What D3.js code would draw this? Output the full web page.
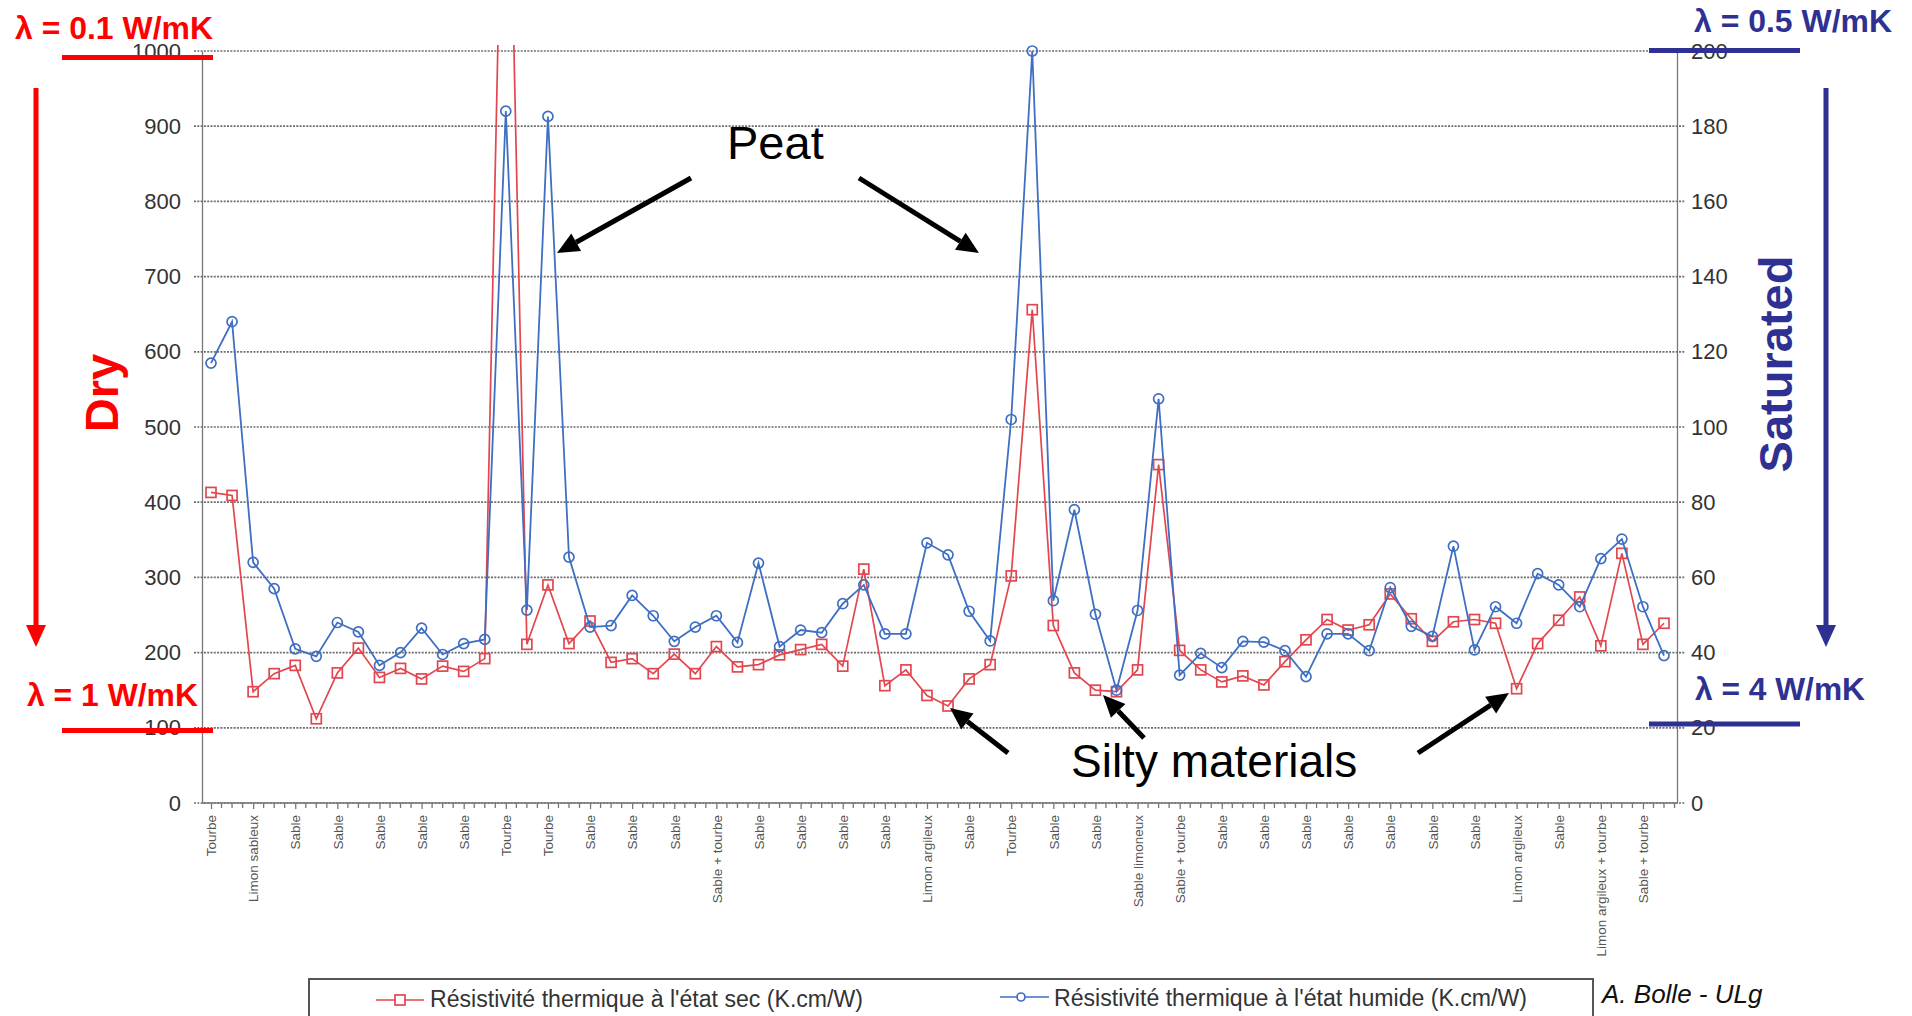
<!DOCTYPE html>
<meta charset='utf-8'>
<style>
body { margin: 0; background: #fff; }
svg { font-family: 'Liberation Sans', Arial, sans-serif; }
.grid line { stroke: #6e6e6e; stroke-width: 1.7; stroke-dasharray: 2,1.3; }
.axis path, .axis line { stroke: #777; stroke-width: 1.3; }
.axis text { fill: #333; font-size: 22px; }
.xaxis text { fill: #555; font-size: 13.5px; }
.ann { font-weight: bold; }
</style>
<svg width='1912' height='1016'></svg>
<script src='https://d3js.org/d3.v7.min.js'></script>
<script>

// soil type of every second sample
var labels = ['Tourbe', 'Limon sableux', 'Sable', 'Sable', 'Sable', 'Sable', 'Sable', 'Tourbe',
  'Tourbe', 'Sable', 'Sable', 'Sable', 'Sable + tourbe', 'Sable', 'Sable', 'Sable', 'Sable',
  'Limon argileux', 'Sable', 'Tourbe', 'Sable', 'Sable', 'Sable limoneux', 'Sable + tourbe',
  'Sable', 'Sable', 'Sable', 'Sable', 'Sable', 'Sable', 'Sable', 'Limon argileux', 'Sable',
  'Limon argileux + tourbe', 'Sable + tourbe'];

// dry resistivity, left axis (K.cm/W)
var dry = [413, 409, 148, 172, 183, 112, 173, 206, 167, 179,
  165, 182, 175, 192, 1500, 211, 290, 212, 242, 187,
  192, 172, 198, 172, 208, 181, 184, 197, 204, 211,
  182, 311, 156, 177, 143, 129, 165, 184, 302, 656,
  236, 173, 150, 148, 177, 450, 203, 177, 161, 169,
  157, 188, 217, 244, 230, 237, 278, 245, 215, 241,
  244, 239, 152, 212, 243, 274, 209, 332, 211, 239];

// saturated resistivity, right axis (K.cm/W)
var wet = [117, 128, 64, 57, 41, 39, 48, 45.5, 36.6, 40,
  46.5, 39.5, 42.4, 43.5, 184, 51.3, 182.6, 65.4, 46.8, 47.2,
  55.2, 49.8, 43, 46.8, 49.8, 42.7, 63.8, 41.6, 46, 45.3,
  53, 58, 45, 45, 69.2, 66, 51, 43.1, 102, 200,
  53.8, 78, 50.2, 30, 51.2, 107.5, 34, 39.8, 36, 43,
  42.8, 40.5, 33.6, 45, 45, 40.5, 57.3, 47, 44.3, 68.3,
  40.7, 52.2, 47.8, 61, 58, 52.2, 65, 70.2, 52.2, 39.2];

var leftTicks = [0, 100, 200, 300, 400, 500, 600, 700, 800, 900, 1000];
var rightTicks = [0, 20, 40, 60, 80, 100, 120, 140, 160, 180, 200];

var svg = d3.select('svg'),
    pLeft = 202, pRight = 1677, pTop = 51, pBottom = 803,
    red = '#e2474f', blue = '#3f6fc2',
    annRed = '#ff0000', annBlue = '#2e3192';

var x = d3.scalePoint().domain(d3.range(dry.length)).range([211, 1664]);
var yL = d3.scaleLinear().domain([0, 1000]).range([pBottom, pTop]);
var yR = d3.scaleLinear().domain([0, 200]).range([pBottom, pTop]);

// gridlines
svg.append('g').attr('class', 'grid')
  .selectAll('line').data(leftTicks).enter().append('line')
  .attr('x1', pLeft - 8).attr('x2', pRight + 8)
  .attr('y1', function(d) { return yL(d); })
  .attr('y2', function(d) { return yL(d); });

svg.append('g').attr('class', 'axis')
  .attr('transform', 'translate(' + pLeft + ',0)')
  .call(d3.axisLeft(yL).tickValues(leftTicks).tickFormat(d3.format('d')).tickSize(0).tickPadding(21));

svg.append('g').attr('class', 'axis')
  .attr('transform', 'translate(' + pRight + ',0)')
  .call(d3.axisRight(yR).tickValues(rightTicks).tickFormat(d3.format('d')).tickSize(0).tickPadding(14));

// bottom axis, labels every second sample
var xAxis = svg.append('g').attr('class', 'axis xaxis')
  .attr('transform', 'translate(0,' + pBottom + ')')
  .call(d3.axisBottom(x)
    .tickValues(d3.range(0, dry.length, 2))
    .tickFormat(function(i) { return labels[i / 2]; })
    .tickSize(6));
xAxis.select('.domain').attr('d', 'M' + pLeft + ',0H' + pRight);
xAxis.selectAll('text')
  .attr('transform', 'rotate(-90)')
  .attr('text-anchor', 'end')
  .attr('x', -12).attr('y', 0).attr('dy', '0.35em');

xAxis.selectAll('line.minor')
  .data(d3.range(dry.length).map(function(i) { return i + 0.5; }).concat(d3.range(1, dry.length, 2)))
  .enter().append('line').attr('class', 'minor')
  .attr('x1', function(d) { return x(Math.floor(d)) + (d % 1 ? x.step() / 2 : 0); })
  .attr('x2', function(d) { return x(Math.floor(d)) + (d % 1 ? x.step() / 2 : 0); })
  .attr('y1', 0).attr('y2', 5);

// data
svg.append('clipPath').attr('id', 'clip')
  .append('rect').attr('x', pLeft).attr('y', pTop - 6)
  .attr('width', pRight - pLeft).attr('height', pBottom - pTop + 6);

var plot = svg.append('g').attr('clip-path', 'url(#clip)');

var lineDry = d3.line().x(function(d, i) { return x(i); }).y(function(d) { return yL(d); });
var lineWet = d3.line().x(function(d, i) { return x(i); }).y(function(d) { return yR(d); });

plot.append('path').datum(dry).attr('d', lineDry)
  .attr('fill', 'none').attr('stroke', red).attr('stroke-width', 1.7);
plot.selectAll('rect.dry').data(dry).enter().append('rect').attr('class', 'dry')
  .attr('x', function(d, i) { return x(i) - 5; })
  .attr('y', function(d) { return yL(d) - 5; })
  .attr('width', 10).attr('height', 10)
  .attr('fill', 'none').attr('stroke', red).attr('stroke-width', 1.7);

plot.append('path').datum(wet).attr('d', lineWet)
  .attr('fill', 'none').attr('stroke', blue).attr('stroke-width', 1.8);
plot.selectAll('circle.wet').data(wet).enter().append('circle').attr('class', 'wet')
  .attr('cx', function(d, i) { return x(i); })
  .attr('cy', function(d) { return yR(d); })
  .attr('r', 5)
  .attr('fill', 'none').attr('stroke', blue).attr('stroke-width', 1.7);

// legend
svg.append('rect').attr('x', 309).attr('y', 979).attr('width', 1284).attr('height', 60)
  .attr('fill', 'none').attr('stroke', '#555').attr('stroke-width', 2);
svg.append('line').attr('x1', 376).attr('x2', 424).attr('y1', 1000).attr('y2', 1000)
  .attr('stroke', red).attr('stroke-width', 1.7);
svg.append('rect').attr('x', 395).attr('y', 995).attr('width', 10).attr('height', 10)
  .attr('fill', '#fff').attr('stroke', red).attr('stroke-width', 1.7);
svg.append('text').attr('x', 430).attr('y', 1007).attr('font-size', 23).attr('fill', '#333')
  .attr('textLength', 433).attr('lengthAdjust', 'spacingAndGlyphs')
  .text("Résistivité thermique à l'état sec (K.cm/W)");
svg.append('line').attr('x1', 1000).attr('x2', 1049).attr('y1', 997).attr('y2', 997)
  .attr('stroke', blue).attr('stroke-width', 1.7);
svg.append('circle').attr('cx', 1021).attr('cy', 997).attr('r', 4)
  .attr('fill', '#fff').attr('stroke', blue).attr('stroke-width', 1.7);
svg.append('text').attr('x', 1054).attr('y', 1006).attr('font-size', 23).attr('fill', '#333')
  .attr('textLength', 473).attr('lengthAdjust', 'spacingAndGlyphs')
  .text("Résistivité thermique à l'état humide (K.cm/W)");

svg.append('text').attr('x', 1602).attr('y', 1003).attr('font-size', 26)
  .attr('font-style', 'italic').attr('fill', '#111').text('A. Bolle - ULg');

// annotations
function arrow(x1, y1, x2, y2, color, w) {
  var a = Math.atan2(y2 - y1, x2 - x1), len = 22, half = 10,
      bx = x2 - len * Math.cos(a), by = y2 - len * Math.sin(a);
  svg.append('line').attr('x1', x1).attr('y1', y1).attr('x2', bx).attr('y2', by)
    .attr('stroke', color).attr('stroke-width', w);
  svg.append('polygon')
    .attr('points', [[x2, y2],
      [bx + half * Math.sin(a), by - half * Math.cos(a)],
      [bx - half * Math.sin(a), by + half * Math.cos(a)]].join(' '))
    .attr('fill', color);
}

function lambda(txt, tx, ty, len, color) {
  svg.append('text').attr('class', 'ann').attr('x', tx).attr('y', ty)
    .attr('font-size', 32).attr('fill', color)
    .attr('textLength', len).attr('lengthAdjust', 'spacingAndGlyphs').text(txt);
}

lambda('λ = 0.1 W/mK', 15, 39, 198, annRed);
lambda('λ = 1 W/mK', 27, 706, 171, annRed);
lambda('λ = 0.5 W/mK', 1694, 32, 198, annBlue);
lambda('λ = 4 W/mK', 1695, 700, 170, annBlue);

[[62, 213, 57.5, annRed], [62, 213, 730.5, annRed], [1649, 1800, 50.5, annBlue], [1649, 1800, 724, annBlue]]
  .forEach(function(l) {
    svg.append('line').attr('x1', l[0]).attr('x2', l[1]).attr('y1', l[2]).attr('y2', l[2])
      .attr('stroke', l[3]).attr('stroke-width', 5);
  });

arrow(36, 88, 36, 647, annRed, 5);
arrow(1826, 88, 1826, 647, annBlue, 5);

svg.append('text').attr('class', 'ann').attr('transform', 'translate(118,393) rotate(-90)')
  .attr('text-anchor', 'middle').attr('font-size', 47).attr('fill', annRed).text('Dry');
svg.append('text').attr('class', 'ann').attr('transform', 'translate(1792,364) rotate(-90)')
  .attr('text-anchor', 'middle').attr('font-size', 47).attr('fill', annBlue).text('Saturated');

svg.append('text').attr('x', 727).attr('y', 159).attr('font-size', 47).attr('fill', '#000').text('Peat');
svg.append('text').attr('x', 1071).attr('y', 777).attr('font-size', 46).attr('fill', '#000').text('Silty materials');

arrow(691, 178, 557, 253, '#000', 5);
arrow(859, 178, 979, 253, '#000', 5);
arrow(1008, 753, 950, 708, '#000', 5);
arrow(1144, 738, 1103, 695, '#000', 5);
arrow(1418, 753, 1509, 693, '#000', 5);

</script>
